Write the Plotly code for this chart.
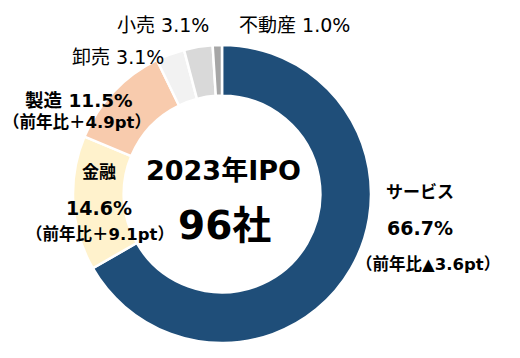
import plotly.graph_objects as go

categories = ["サービス", "金融", "製造", "卸売", "小売", "不動産"]
shares = [66.7, 14.6, 11.5, 3.1, 3.1, 1.0]
yoy = ["▲3.6pt", "＋9.1pt", "＋4.9pt", None, None, None]
colors = ["#1F4E79", "#FFF2CC", "#F8CBAD", "#F2F2F2", "#D9D9D9", "#A6A6A6"]
center_title = "2023年IPO"
center_count = "96社"

W, H = 520, 358
FONT = "DejaVu Sans, Noto Sans CJK JP"
CJK = "Noto Sans CJK JP"

fig = go.Figure(go.Pie(
    labels=categories, values=shares, sort=False, direction="clockwise", rotation=0,
    hole=0.66, marker=dict(colors=colors, line=dict(color="white", width=2.5)),
    textinfo="none", hoverinfo="label+percent", showlegend=False,
    domain=dict(x=[73 / W, 371 / W], y=[(H - 343) / H, (H - 45) / H]),
))

def px(x, y):
    return x / W, 1 - y / H

anns = []
def add(text, x, y, size, bold=False, anchor="center"):
    ax, ay = px(x, y)
    t = f"<b>{text}</b>" if bold else text
    anns.append(dict(text=t, x=ax, y=ay, xref="paper", yref="paper", showarrow=False,
                     xanchor=anchor, yanchor="middle",
                     font=dict(family=FONT, size=size, color="#000000")))

def paren(s):
    o = f"<span style='font-family:{CJK}'>（</span>"
    c = f"<span style='font-family:{CJK}'>）</span>"
    return f"{o}前年比{s}{c}"

add(center_title, 223, 170, 27, True)
add(center_count, 224, 226, 39, True)

add(categories[0], 420, 192, 17, True)
add(f"{shares[0]}%", 420, 228, 19, True)
add(paren(yoy[0]), 428, 263, 16.5, True)
add(categories[1], 99, 172, 17, True)
add(f"{shares[1]}%", 99, 208, 19, True)
add(paren(yoy[1]), 100, 233, 16.5, True)
add(f"{categories[2]} {shares[2]}%", 79, 100, 18.5, True)
add(paren(yoy[2]), 77, 121, 16.5, True)
add(f"{categories[3]} {shares[3]}%", 118, 57, 19)
add(f"{categories[4]} {shares[4]}%", 163, 25, 19)
add(f"{categories[5]} {shares[5]}%", 294, 25, 19)

fig.update_layout(width=W, height=H, margin=dict(l=0, r=0, t=0, b=0),
                  paper_bgcolor="white", plot_bgcolor="white", annotations=anns)
fig.write_html("out.html", config={"displayModeBar": False},
               post_script="document.body.style.margin='0';")
